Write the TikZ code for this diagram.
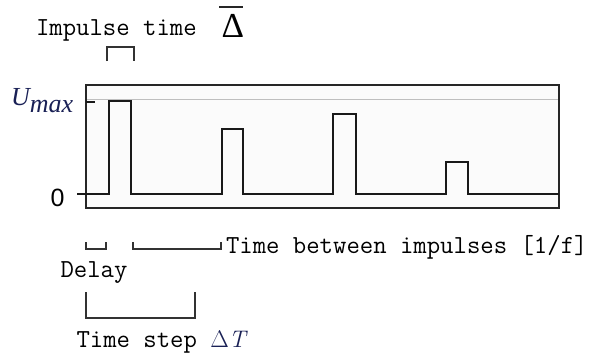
\documentclass[tikz,border=0pt]{standalone}
\usepackage{fontspec}
\newfontfamily\timesf{Liberation Serif}
\newfontfamily\arialf{Liberation Sans}
\definecolor{mathblue}{RGB}{25,32,85}
\definecolor{brackgray}{RGB}{50,50,50}
\begin{document}
\begin{tikzpicture}[x=1pt,y=-1pt,
  lbl/.style={inner sep=0pt,outer sep=0pt,anchor=base west,font=\fontsize{26}{30}\selectfont\ttfamily},
  frame/.style={line width=2pt,black!85},
  signal/.style={line width=2.2pt,black!90,line join=miter},
  brack/.style={line width=1.1pt,brackgray},
  guide/.style={line width=1pt,black!25}]
\useasboundingbox (0,0) rectangle (600,356);
\fill[white] (0,0) rectangle (600,356);
% frame
\filldraw[frame,fill=black!1.5] (86,85) rectangle (559,208);
\draw[guide] (87,99) -- (558,99);
% axis ticks
\draw[signal] (86,102) -- (95,102);
% signal
\draw[signal] (77,194) -- (109,194) -- (109,101) -- (131,101) -- (131,194)
  -- (222,194) -- (222,129) -- (243,129) -- (243,194)
  -- (333,194) -- (333,114) -- (356,114) -- (356,194)
  -- (446,194) -- (446,162) -- (468,162) -- (468,194) -- (559,194);
% axis labels
\node[inner sep=0pt,anchor=base west,font=\fontsize{26}{30}\selectfont\timesf\itshape,text=mathblue] (umax) at (11,105) {U\raisebox{-7pt}{max}};
\node[inner sep=0pt,anchor=base west,font=\fontsize{25}{30}\selectfont\arialf] (zero) at (50.5,206) {0};
% impulse time
\node[lbl] (imp) at (36,35) {Impulse time};
\node[inner sep=0pt,anchor=base west,font=\fontsize{35}{40}\selectfont\timesf] (delta) at (221.5,37) {Δ};
\draw[line width=1.8pt,black!85] (219,7) -- (243,7);
\draw[brack] (107,61) -- (107,47) -- (134,47) -- (134,61);
% delay and between
\draw[brack] (86,242) -- (86,249) -- (106,249) -- (106,242);
\draw[brack] (133,242) -- (133,249) -- (221,249) -- (221,242);
\node[lbl] (between) at (226,253) {Time between impulses [1/f]};
\node[lbl] (delay) at (60.5,277) {Delay};
% time step
\draw[brack] (86,292) -- (86,318) -- (195,318) -- (195,292);
\node[lbl] (tstep) at (76.5,347) {Time step {\fontsize{24}{28}\selectfont\rmfamily\color{mathblue}Δ\textit{T}}};
\end{tikzpicture}
\end{document}
